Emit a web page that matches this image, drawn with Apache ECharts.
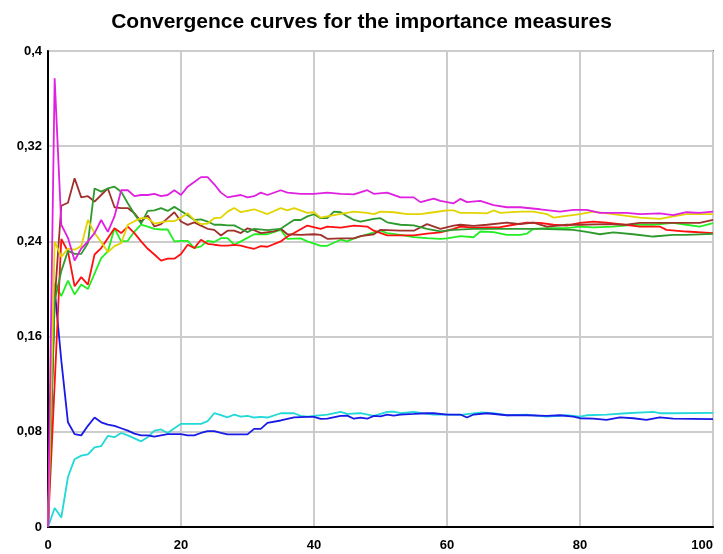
<!DOCTYPE html>
<html>
<head>
<meta charset="utf-8">
<script src="https://cdn.jsdelivr.net/npm/echarts@6/dist/echarts.min.js"></script>
<style>
html,body{margin:0;padding:0;background:#fff;}
#chart{width:723px;height:554px;}
</style>
</head>
<body>
<div id="chart"></div>
<script>
var titleText = 'Convergence curves for the importance measures';
var xTickLabels = ['0', '20', '40', '60', '80', '100'];
var yTickLabels = ['0', '0,08', '0,16', '0,24', '0,32', '0,4'];

var magenta = [[0,0],[1,0.377],[2,0.254],[3,0.243],[4,0.224],[5,0.234],[6,0.240],[7,0.247],[8,0.258],[9,0.248],[10,0.261],[11,0.283],[12,0.283],[13,0.278],[14,0.279],[15,0.279],[16,0.280],[17,0.278],[18,0.279],[19,0.283],[20,0.279],[21,0.286],[22,0.290],[23,0.294],[24,0.294],[25,0.288],[26,0.281],[27,0.277],[28,0.278],[29,0.279],[30,0.277],[31,0.278],[32,0.281],[33,0.279],[35,0.283],[36,0.281],[38,0.280],[40,0.280],[42,0.281],[44,0.280],[46,0.2795],[48,0.283],[49,0.280],[51,0.281],[53,0.277],[55,0.277],[56,0.273],[58,0.276],[59,0.274],[61,0.272],[62,0.2757],[63,0.273],[65,0.274],[67,0.2705],[69,0.2687],[71,0.2687],[74,0.267],[77,0.265],[79,0.2665],[81,0.2665],[83,0.264],[87,0.264],[89,0.263],[92,0.2635],[94,0.262],[96,0.2645],[98,0.264],[100,0.265]];

var yellow = [[0,0],[1,0.24],[2,0.227],[3,0.234],[4,0.233],[5,0.236],[6,0.258],[7,0.247],[8,0.2395],[9,0.231],[10,0.236],[11,0.2385],[12,0.254],[13,0.257],[14,0.2595],[15,0.2595],[16,0.255],[17,0.256],[18,0.257],[19,0.257],[20,0.260],[21,0.2636],[22,0.258],[23,0.2545],[24,0.255],[25,0.2595],[26,0.260],[27,0.265],[28,0.268],[29,0.2645],[31,0.267],[33,0.263],[35,0.268],[36,0.266],[37,0.268],[39,0.264],[40,0.2645],[41,0.260],[43,0.262],[46,0.265],[48,0.264],[49,0.263],[50,0.265],[52,0.2645],[54,0.263],[56,0.263],[58,0.2645],[60,0.266],[61,0.266],[62,0.264],[64,0.264],[66,0.2635],[67,0.266],[68,0.264],[71,0.265],[73,0.265],[75,0.263],[76,0.260],[78,0.2615],[80,0.263],[82,0.265],[84,0.2635],[87,0.2615],[89,0.260],[92,0.259],[94,0.261],[96,0.263],[100,0.263]];

var darkGreen = [[0,0],[1,0.19],[2,0.215],[3,0.232],[4,0.2295],[5,0.2295],[6,0.2385],[7,0.2845],[8,0.2818],[9,0.2845],[10,0.286],[11,0.2818],[12,0.272],[13,0.263],[14,0.255],[15,0.2656],[16,0.266],[17,0.268],[18,0.2656],[19,0.269],[20,0.2656],[21,0.262],[22,0.258],[23,0.2585],[24,0.2567],[25,0.254],[26,0.254],[27,0.2535],[28,0.2535],[29,0.2506],[30,0.2478],[31,0.2506],[33,0.2495],[35,0.2506],[36,0.2545],[37,0.258],[38,0.258],[39,0.261],[40,0.2628],[41,0.2595],[42,0.2595],[43,0.265],[44,0.2645],[45,0.261],[46,0.258],[47,0.2567],[49,0.259],[50,0.2595],[51,0.256],[53,0.254],[55,0.2535],[57,0.2506],[59,0.2485],[61,0.2497],[64,0.2506],[68,0.2506],[71,0.2506],[74,0.2506],[79,0.2497],[81,0.248],[83,0.246],[85,0.2475],[88,0.246],[91,0.2441],[94,0.2455],[96,0.2455],[100,0.2464]];

var brown = [[0,0],[1,0.19],[2,0.27],[3,0.2725],[4,0.293],[5,0.277],[6,0.278],[7,0.2735],[8,0.279],[9,0.2845],[10,0.2687],[11,0.268],[12,0.268],[13,0.2636],[14,0.2567],[15,0.2617],[16,0.2525],[17,0.2545],[18,0.2595],[19,0.2645],[20,0.2567],[21,0.2539],[22,0.256],[23,0.2533],[24,0.2506],[25,0.2497],[26,0.245],[27,0.249],[28,0.249],[29,0.247],[30,0.251],[31,0.2495],[32,0.247],[34,0.2485],[35,0.2506],[36,0.246],[38,0.2455],[40,0.246],[41,0.2455],[42,0.2422],[44,0.2425],[46,0.2425],[47,0.2445],[49,0.246],[50,0.2497],[53,0.249],[55,0.249],[57,0.2545],[59,0.2506],[61,0.2533],[62,0.254],[64,0.253],[66,0.254],[69,0.2558],[71,0.2545],[73,0.2558],[75,0.2525],[78,0.254],[80,0.254],[84,0.2545],[87,0.254],[89,0.2555],[94,0.2555],[98,0.2555],[100,0.258]];

var red = [[0,0],[1,0.12],[2,0.242],[3,0.2316],[4,0.2023],[5,0.21],[6,0.2037],[7,0.229],[8,0.2344],[9,0.2427],[10,0.251],[11,0.247],[12,0.2525],[13,0.247],[14,0.24],[15,0.2338],[16,0.229],[17,0.2238],[18,0.2255],[19,0.2255],[20,0.2294],[21,0.2372],[22,0.2344],[23,0.2414],[24,0.238],[25,0.2372],[26,0.2365],[27,0.2365],[28,0.237],[29,0.2365],[30,0.235],[31,0.2338],[32,0.236],[33,0.2355],[35,0.240],[36,0.2441],[37,0.247],[39,0.2533],[41,0.2506],[42,0.2525],[44,0.2515],[46,0.2533],[48,0.2525],[49,0.249],[51,0.245],[53,0.245],[55,0.245],[57,0.2465],[59,0.2475],[61,0.2506],[62,0.2525],[64,0.2515],[68,0.252],[70,0.254],[72,0.2558],[74,0.2555],[76,0.254],[78,0.2533],[80,0.2555],[82,0.2567],[84,0.2558],[86,0.2545],[89,0.2525],[92,0.2525],[93,0.2497],[96,0.2483],[100,0.247]];

var lime = [[0,0],[1,0.205],[2,0.194],[3,0.207],[4,0.1954],[5,0.2037],[6,0.2],[7,0.213],[8,0.226],[9,0.2316],[10,0.251],[11,0.24],[12,0.2405],[13,0.2483],[14,0.254],[15,0.2525],[16,0.2506],[17,0.25],[18,0.25],[19,0.24],[20,0.2405],[21,0.2405],[22,0.2344],[23,0.2358],[24,0.2405],[25,0.2395],[26,0.2427],[27,0.2427],[28,0.2372],[29,0.240],[31,0.246],[33,0.246],[35,0.2497],[36,0.2422],[38,0.2425],[39,0.240],[41,0.2363],[42,0.2363],[44,0.2414],[45,0.240],[46,0.2425],[48,0.246],[50,0.249],[51,0.247],[53,0.2455],[55,0.2436],[57,0.2427],[59,0.2422],[60,0.2425],[62,0.2445],[64,0.2435],[65,0.2483],[67,0.2478],[69,0.2455],[71,0.2455],[72,0.2465],[73,0.2506],[75,0.2511],[78,0.2511],[80,0.2525],[82,0.2518],[85,0.2525],[88,0.254],[91,0.254],[94,0.2555],[96,0.254],[98,0.2525],[100,0.2553]];

var blue = [[0,0],[1,0.20],[2,0.14],[3,0.088],[4,0.078],[5,0.077],[6,0.085],[7,0.092],[8,0.088],[9,0.086],[10,0.085],[11,0.083],[12,0.081],[13,0.0785],[14,0.077],[15,0.077],[16,0.076],[17,0.077],[18,0.078],[19,0.078],[20,0.078],[21,0.077],[22,0.077],[23,0.079],[24,0.0805],[25,0.0805],[26,0.079],[27,0.0778],[28,0.0778],[29,0.0778],[30,0.0778],[31,0.0825],[32,0.0825],[33,0.0875],[35,0.0895],[37,0.0922],[39,0.0925],[40,0.0925],[41,0.0909],[42,0.091],[44,0.0934],[45,0.0936],[46,0.091],[47,0.092],[48,0.091],[49,0.0934],[50,0.093],[51,0.0945],[52,0.0936],[53,0.0945],[55,0.095],[57,0.0956],[58,0.0956],[60,0.0945],[62,0.0945],[63,0.092],[64,0.0945],[66,0.0956],[69,0.0939],[72,0.0939],[75,0.0934],[77,0.0939],[79,0.0928],[80,0.0914],[82,0.0911],[84,0.090],[86,0.0922],[88,0.0914],[90,0.090],[92,0.0922],[94,0.0911],[100,0.0906]];

var cyan = [[0,0],[1,0.016],[2,0.008],[3,0.042],[4,0.057],[5,0.060],[6,0.061],[7,0.067],[8,0.068],[9,0.0765],[10,0.0755],[11,0.079],[12,0.077],[13,0.0745],[14,0.072],[15,0.0755],[16,0.081],[17,0.082],[18,0.079],[19,0.083],[20,0.0867],[21,0.0867],[22,0.0867],[23,0.0867],[24,0.089],[25,0.0956],[26,0.094],[27,0.0922],[28,0.0945],[29,0.0928],[30,0.0934],[31,0.092],[32,0.0925],[33,0.092],[35,0.0956],[37,0.0956],[38,0.0934],[39,0.0928],[40,0.0934],[42,0.0945],[44,0.0967],[45,0.095],[47,0.0956],[49,0.0934],[51,0.0967],[52,0.097],[53,0.0956],[55,0.0967],[57,0.095],[58,0.0945],[60,0.0945],[62,0.0942],[65,0.0962],[67,0.0956],[69,0.0939],[72,0.0945],[75,0.0928],[78,0.0939],[80,0.0928],[81,0.0939],[84,0.0945],[87,0.0956],[91,0.0967],[92,0.0956],[94,0.0956],[100,0.0959]];

var seriesDefs = [
  {name: 'cyan', data: cyan, color: '#22d8d8'},
  {name: 'blue', data: blue, color: '#1a1ae6'},
  {name: 'lime', data: lime, color: '#22ee22'},
  {name: 'red', data: red, color: '#ff1010'},
  {name: 'brown', data: brown, color: '#a0302a'},
  {name: 'darkGreen', data: darkGreen, color: '#2e9a2e'},
  {name: 'yellow', data: yellow, color: '#e2d400'},
  {name: 'magenta', data: magenta, color: '#e020e0'}
];

var chart = echarts.init(document.getElementById('chart'), null, {renderer: 'canvas'});
var labelFont = {color: '#000', fontWeight: 'bold', fontSize: 13, fontFamily: 'Liberation Sans, Arial, sans-serif'};

chart.setOption({
  animation: false,
  backgroundColor: '#fff',
  title: {
    text: titleText,
    left: 'center',
    top: 7,
    textStyle: {color: '#000', fontWeight: 'bold', fontSize: 21, fontFamily: 'Liberation Sans, Arial, sans-serif'}
  },
  grid: {left: 48, right: 10, top: 51, bottom: 27, show: true, borderColor: '#111', borderWidth: 1.5, backgroundColor: 'transparent'},
  xAxis: {
    type: 'value', min: 0, max: 100, interval: 20,
    axisLine: {show: true, lineStyle: {color: '#000', width: 2}},
    axisTick: {show: false},
    splitLine: {show: true, lineStyle: {color: '#cccccc', width: 2}},
    axisLabel: Object.assign({margin: 12, alignMaxLabel: 'right', formatter: function (v) { return xTickLabels[Math.round(v / 20)]; }}, labelFont)
  },
  yAxis: {
    type: 'value', min: 0, max: 0.4, interval: 0.08,
    axisLine: {show: true, lineStyle: {color: '#000', width: 2}},
    axisTick: {show: false},
    splitLine: {show: true, lineStyle: {color: '#cccccc', width: 2}},
    axisLabel: Object.assign({margin: 6, padding: [4, 0, 0, 0], formatter: function (v) { return yTickLabels[Math.round(v / 0.08)]; }}, labelFont)
  },
  series: seriesDefs.map(function (s) {
    return {
      name: s.name, type: 'line', data: s.data, showSymbol: false, symbol: 'none',
      lineStyle: {color: s.color, width: 1.8}, itemStyle: {color: s.color}, z: 3
    };
  })
});
</script>
</body>
</html>
